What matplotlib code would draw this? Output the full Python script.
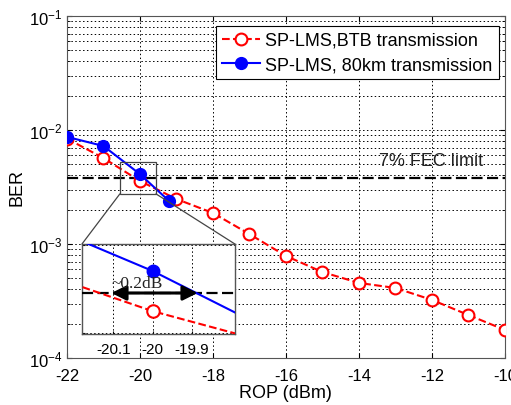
import matplotlib
matplotlib.use("Agg")
import matplotlib.pyplot as plt
import matplotlib.patches as mpatches
from matplotlib.patches import ConnectionPatch
from matplotlib.ticker import LogLocator, NullFormatter, FixedLocator
import numpy as np

plt.rcParams["font.family"] = ["Liberation Sans", "DejaVu Sans"]

# 데이터
rop_btb = [-22, -21, -20, -19, -18, -17, -16, -15, -14, -13, -12, -11, -10]
ber_btb = [8.4e-3, 5.67e-3, 3.57e-3, 2.48e-3, 1.87e-3, 1.22e-3, 7.85e-4,
           5.67e-4, 4.55e-4, 4.11e-4, 3.23e-4, 2.38e-4, 1.76e-4]
rop_80km = [-22, -21, -20, -19.2]
ber_80km = [8.7e-3, 7.24e-3, 4.1e-3, 2.38e-3]
fec_limit = 3.8e-3
xticks_main = [-22, -20, -18, -16, -14, -12, -10]
xticks_inset = [-20.1, -20, -19.9]
zoom_x = (-20.55, -19.56)
zoom_y = (2.75e-3, 5.24e-3)
inset_x = (-20.18, -19.79)
inset_y = (3.3e-3, 4.5e-3)
gap_x = (-20.105, -19.885)

GRID = dict(color="black", linestyle=(0, (1.5, 2.5)), linewidth=0.7)


def draw_curves(ax, ms=8.5):
    ax.plot(rop_btb, ber_btb, "--", color="red", lw=1.5, marker="o", ms=ms,
            mfc="white", mec="red", mew=1.5, label="SP-LMS,BTB transmission", zorder=4)
    ax.plot(rop_80km, ber_80km, "-", color="blue", lw=1.5, marker="o", ms=ms,
            mfc="blue", mec="blue", label="SP-LMS, 80km transmission", zorder=5)
    ax.axhline(fec_limit, color="black", linestyle=(0, (5, 2)), lw=1.6, zorder=3)


fig = plt.figure(figsize=(5.11, 4.06), dpi=100, facecolor="white")
ax = fig.add_axes([0.131, 0.116, 0.857, 0.842])

draw_curves(ax)
ax.set_yscale("log")
ax.set_xlim(-22, -10)
ax.set_ylim(1e-4, 1e-1)
ax.set_xticks(xticks_main)
ax.set_xticklabels([str(t) for t in xticks_main])
ax.yaxis.set_major_locator(LogLocator(base=10, numticks=10))
ax.yaxis.set_minor_locator(LogLocator(base=10, subs=np.arange(2, 10), numticks=20))
ax.yaxis.set_minor_formatter(NullFormatter())
ax.grid(True, which="major", axis="both", **GRID)
ax.grid(True, which="minor", axis="y", **GRID)
ax.tick_params(which="both", direction="in", labelsize=12, top=True, right=True)
ax.tick_params(axis="x", pad=7)
ax.tick_params(which="minor", length=2)
for s in ax.spines.values():
    s.set_color("#555555")

ax.set_xlabel("ROP (dBm)", fontsize=13)
ax.set_ylabel("BER", fontsize=13)
ax.xaxis.set_label_coords(0.5, -0.076)
ax.yaxis.set_label_coords(-0.095, 0.5)

ax.text(-10.6, 5.4e-3, "7% FEC limit", fontsize=13, ha="right", va="center",
        color="#222222")

leg = ax.legend(loc="upper right", bbox_to_anchor=(0.9865, 0.972), fontsize=13,
                fancybox=False, framealpha=1, edgecolor="black", handlelength=2.1,
                borderaxespad=0.0, borderpad=0.35, handletextpad=0.3,
                labelspacing=0.4)
leg.get_frame().set_linewidth(0.8)

# 확대 영역 사각형
rect = mpatches.Rectangle((zoom_x[0], zoom_y[0]), zoom_x[1] - zoom_x[0],
                          zoom_y[1] - zoom_y[0], fill=False, edgecolor="#444444",
                          lw=0.9, zorder=6)
ax.add_patch(rect)

# 인셋
axins = fig.add_axes([0.1605, 0.175, 0.299, 0.2217])
draw_curves(axins, ms=9)
axins.set_yscale("log")
axins.set_xlim(*inset_x)
axins.set_ylim(*inset_y)
axins.xaxis.set_major_locator(FixedLocator(xticks_inset))
axins.set_xticklabels(["-20.1", "-20", "-19.9"])
axins.yaxis.set_major_locator(FixedLocator([inset_y[0] * 1.004, inset_y[1] * 0.996]))
axins.yaxis.set_minor_locator(FixedLocator([]))
axins.set_yticklabels([])
axins.grid(True, which="major", axis="both", **GRID)
axins.tick_params(which="both", direction="in", length=2, labelsize=11, pad=6)
for s in axins.spines.values():
    s.set_color("#555555")
    s.set_linewidth(1.0)

axins.annotate("", xy=(gap_x[0], fec_limit), xytext=(gap_x[1], fec_limit),
               arrowprops=dict(arrowstyle="<|-|>", color="black", lw=2.2,
                               mutation_scale=22, shrinkA=0, shrinkB=0), zorder=7)
axins.text(-20.04, 3.82e-3, "~0.2dB", fontsize=12.5, family="Liberation Serif",
           ha="center", va="bottom", color="#222222", zorder=7)

# 연결선
for xa, xb in [(zoom_x[0], 0), (zoom_x[1], 1)]:
    con = ConnectionPatch(xyA=(xa, zoom_y[0]), coordsA="data", axesA=ax,
                          xyB=(xb, 1), coordsB="axes fraction", axesB=axins,
                          color="#444444", lw=0.9, zorder=6)
    fig.add_artist(con)

fig.savefig("out.png", dpi=100, facecolor="white")
